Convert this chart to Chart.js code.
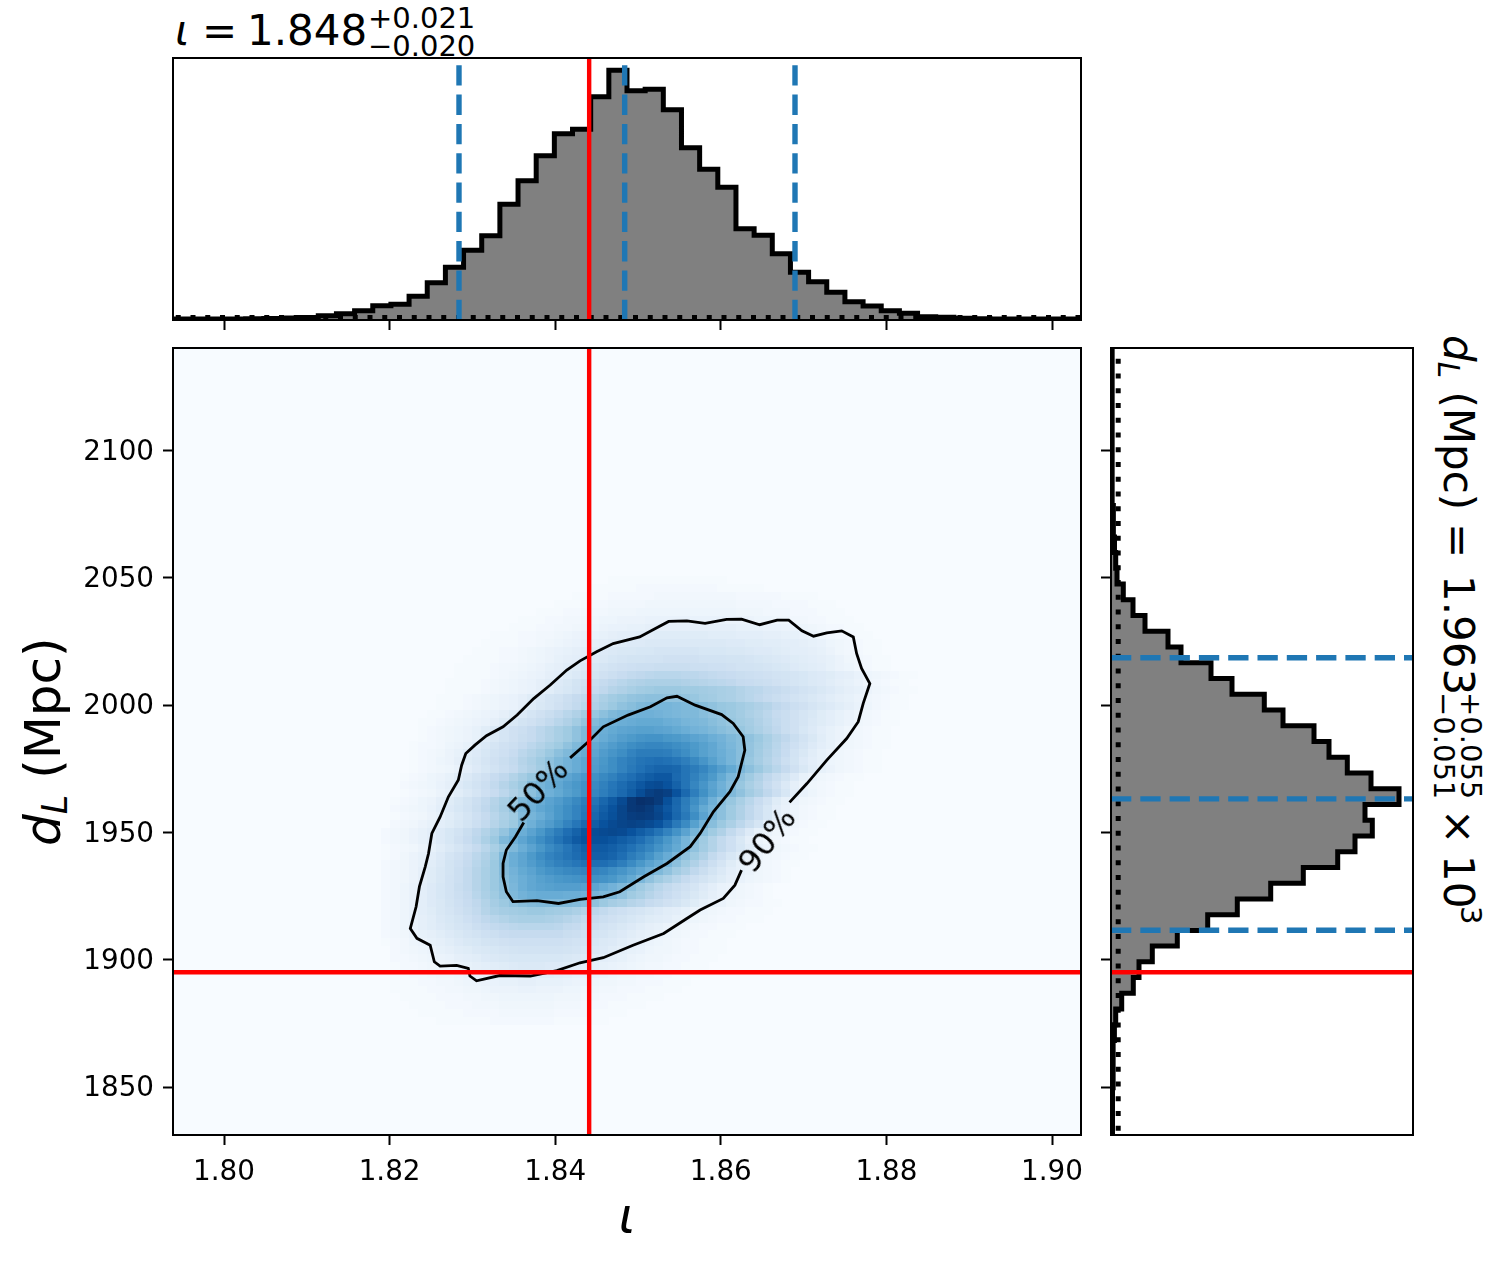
<!DOCTYPE html>
<html>
<head>
<meta charset="utf-8">
<script src="https://cdn.jsdelivr.net/npm/chart.js@4"></script>
<style>
  html, body { margin: 0; background: #fff; }
  #page { position: relative; width: 1502px; height: 1263px; overflow: hidden; font-family: "DejaVu Sans"; color: #000; }
  canvas { position: absolute; z-index: 1; }
  .txt { position: absolute; white-space: pre; line-height: 1; transform-origin: 0 0; z-index: 0; }
  .cl { position: absolute; font-size: 32.5px; line-height: 1; white-space: pre; z-index: 2; }
  .low { font-size: .7em; position: relative; top: .2em; }
</style>
</head>
<body>
<div id="page">
  <canvas id="top-canvas" style="left:0;top:48px"></canvas>
  <canvas id="main-canvas" style="left:0;top:338px"></canvas>
  <canvas id="side-canvas" style="left:1090px;top:338px"></canvas>
</div>
<script>
// axis limits and ticks
const iotaRange = [1.79384, 1.9035];
const distRange = [1831.15, 2140.3];
const iotaTicks = [1.80, 1.82, 1.84, 1.86, 1.88, 1.90];
const distTicks = [1850, 1900, 1950, 2000, 2050, 2100];

// true values and quantiles
const iotaTrue = 1.8441;
const distTrue = 1895.1;
const iotaQuantiles = [1.82838, 1.84839, 1.86896];
const distQuantiles = [1911.6, 1963.2, 2018.6];
const iotaPrior = 2.4;
const distPrior = 7.2;

// histogram heights, 50 bins each, low to high
const iotaHist = [1,1,1,1,1.3,1.5,2,2.5,4.3,6.3,9.3,14.3,15.7,23.7,37.3,52.7,69.7,84.3,115.7,139.3,164.3,186.3,190.7,223.3,249.7,229.3,230.7,210.3,172.3,150.7,132.7,91.3,84.7,66.3,47.7,38.3,27.7,18.3,14,9.3,6.7,3.3,2.7,1.7,1.3,1,1,1,1,1];
const distHist = [1.5,1.5,1.5,2,2,2.3,3.4,4.7,10.7,22.3,28,41.3,66.3,96.7,126.3,159.7,192.3,226.7,244,261.3,254,288,260,236.3,218,203,172,153.3,121,100,70,57,34,22,12.3,6,4.7,3.5,2.7,2.2,1.8,1.5,1.3,1.2,1,1,1,1,1,1];
const histMaxIota = 262;
const histMaxDist = 302;

// density in percent of the peak on a 100x100 grid, rows from heatFirstRow upward,
// each row begins at the column given in heatStartCols
const heatFirstRow = 14;
const heatStartCols = [29,27,26,25,24,24,24,24,24,24,23,23,23,23,23,23,23,23,23,23,23,23,23,23,23,24,24,24,24,25,25,25,26,26,26,26,27,27,27,28,29,29,30,30,31,31,32,33,34,35,37,38,40,42,44,46,48,50,54,58];
const heatRows = [
  [1,1,1,1,1,1,2,2,2,2,2,2,2,1,1,1,1,1,1],
  [1,1,1,1,1,2,2,2,2,3,3,3,3,3,3,2,2,2,2,1,1,1,1],
  [1,1,1,1,2,2,2,3,3,3,4,4,4,4,4,4,3,3,3,2,2,2,1,1,1,1],
  [1,1,1,1,2,2,2,3,3,4,4,5,5,5,5,5,5,4,4,4,3,3,2,2,2,1,1,1,1],
  [1,1,1,1,2,2,3,3,4,4,5,6,6,6,7,7,6,6,6,5,5,4,4,3,3,2,2,2,1,1,1,1],
  [1,1,1,2,2,3,3,4,5,5,6,7,8,8,9,9,8,8,8,7,6,6,5,4,4,3,3,2,2,2,1,1,1],
  [1,1,2,2,3,4,4,5,6,7,8,9,10,11,11,11,11,11,10,9,8,8,7,6,5,4,4,3,3,2,2,1,1,1],
  [1,2,2,3,4,5,6,7,8,9,10,11,12,13,14,14,14,13,13,12,11,10,9,8,7,6,5,4,3,3,2,2,1,1,1],
  [2,2,3,4,5,6,7,9,10,11,13,14,15,16,16,16,16,16,16,15,14,13,11,10,9,8,6,5,4,4,3,2,2,1,1,1],
  [2,3,4,5,6,8,9,11,12,14,15,16,17,18,19,19,19,19,19,18,17,16,14,13,11,9,8,7,5,4,4,3,2,2,1,1,1],
  [1,2,3,5,6,8,9,11,13,15,16,18,19,20,21,21,21,21,21,21,20,19,18,16,14,13,11,9,8,6,5,4,3,2,2,1,1,1],
  [2,3,4,6,8,9,11,13,15,17,19,21,22,24,25,25,25,25,25,25,23,22,20,18,17,15,13,11,9,8,6,5,4,3,2,2,1,1,1],
  [2,3,5,7,9,11,13,15,17,19,22,24,26,27,28,29,29,29,29,28,26,25,23,21,19,17,15,13,11,9,8,6,5,4,3,2,2,1,1,1],
  [2,3,5,7,9,11,14,16,18,21,24,27,29,31,33,34,34,34,33,32,30,28,26,24,22,20,18,16,14,12,11,10,8,7,5,4,3,2,2,1,1,1],
  [2,3,5,7,10,12,15,17,20,23,26,30,33,35,36,37,38,38,37,36,35,33,31,28,26,23,21,19,17,15,13,11,10,8,6,5,4,3,2,2,1,1,1],
  [2,3,5,7,10,13,15,18,21,24,27,31,35,38,41,43,44,45,45,45,45,44,43,41,38,35,33,30,28,25,23,20,18,15,12,9,7,6,4,3,2,2,1,1],
  [2,3,5,7,10,13,16,19,22,25,29,33,37,41,45,48,50,51,51,51,50,50,49,47,45,45,41,37,34,30,27,24,21,18,15,12,9,7,5,4,3,2,1],
  [2,3,5,7,10,13,16,19,23,26,30,34,38,42,46,50,53,55,56,57,57,57,56,54,51,48,45,41,37,33,29,26,23,20,17,13,10,7,6,4,3,2,1],
  [2,3,4,6,9,12,15,19,22,26,30,34,38,43,47,50,53,56,58,60,61,62,63,63,62,60,56,52,46,41,37,33,29,25,21,18,15,12,9,7,5,4,3,2,1],
  [2,3,4,6,9,12,15,18,22,26,30,34,38,44,48,52,55,59,62,64,66,67,68,68,67,64,61,57,53,49,45,41,36,32,27,23,18,14,10,8,6,4,3,2,1],
  [2,3,4,6,8,11,14,18,21,25,29,33,38,45,50,54,58,62,66,69,71,73,75,76,76,74,70,65,60,55,51,47,42,37,32,27,22,17,12,8,6,4,3,2,1,1],
  [1,2,4,6,8,10,13,17,20,24,28,32,37,45,50,54,59,64,68,71,74,77,80,82,82,80,76,71,67,62,56,51,46,41,37,32,26,21,16,12,8,6,4,3,2,1,1],
  [1,2,3,4,6,8,11,14,17,21,25,29,34,39,45,50,55,60,65,69,73,78,82,84,84,82,79,75,71,67,62,57,52,47,41,36,31,26,21,16,11,8,6,4,3,2,1,1],
  [2,3,4,6,8,10,13,16,20,24,28,33,38,45,49,54,59,64,69,74,79,84,87,88,88,86,83,80,76,71,66,60,54,47,42,37,31,26,21,15,9,6,4,3,2,1,1],
  [2,3,4,6,8,10,13,16,19,23,27,31,35,40,46,50,55,60,66,71,76,81,86,89,90,91,90,87,83,79,74,68,62,55,47,42,37,32,26,20,13,8,6,4,3,2,1,1],
  [2,3,4,6,8,10,12,15,18,22,26,30,34,38,45,49,54,58,63,68,73,78,83,87,90,92,93,92,90,87,80,72,65,56,48,43,38,33,28,23,17,10,7,5,3,2,1,1],
  [1,2,3,4,6,8,11,14,17,21,25,29,33,37,44,47,50,55,60,64,68,73,79,84,88,92,95,96,95,92,87,79,72,64,55,47,42,37,32,27,22,16,10,7,5,3,2,1,1],
  [2,3,4,5,7,10,13,16,19,23,27,31,35,41,46,49,53,56,60,64,68,72,77,82,87,92,97,98,96,91,85,78,70,61,52,47,42,37,32,27,22,16,10,7,5,3,2,1,1],
  [1,2,3,5,6,9,12,15,18,22,26,30,34,38,45,48,51,55,58,62,66,70,74,79,84,90,97,100,99,96,88,79,71,64,57,49,43,39,34,29,24,19,12,8,6,4,3,2,1,1],
  [1,2,3,4,6,8,11,14,17,21,24,28,32,36,42,46,49,52,56,59,63,67,70,74,78,83,89,94,96,94,87,78,70,63,56,50,45,41,36,32,27,22,16,10,7,5,3,2,1,1],
  [2,3,4,5,7,9,13,16,19,22,26,30,34,38,44,47,50,53,57,60,63,66,69,73,77,81,85,89,90,87,81,74,67,61,55,49,44,39,34,30,25,20,14,9,6,4,3,2,1,1],
  [1,2,3,5,6,8,11,14,17,20,24,27,31,35,39,45,48,51,54,57,60,63,66,69,73,76,80,83,85,85,78,74,69,64,59,52,46,41,37,32,27,23,18,13,8,6,4,3,2,1,1],
  [1,2,3,4,5,7,10,13,16,19,22,25,29,32,36,40,45,48,51,54,58,61,64,68,72,75,78,80,80,79,74,71,67,62,57,52,46,42,38,33,29,25,20,15,11,8,6,4,3,2,1,1],
  [1,2,3,5,6,9,12,14,17,20,23,26,30,33,37,41,45,48,51,54,57,60,64,68,71,74,75,76,75,73,70,66,61,56,51,47,43,39,35,31,27,22,18,13,10,8,5,4,3,2,1,1],
  [1,2,3,4,6,8,11,13,16,19,21,24,28,31,34,38,42,45,48,51,54,58,61,64,68,71,71,71,70,67,64,60,56,53,50,47,43,40,36,32,28,24,19,15,11,8,6,4,3,2,1,1],
  [1,2,2,3,5,6,8,11,14,17,20,22,25,28,31,34,37,41,45,48,52,55,58,61,64,66,67,67,66,64,62,59,56,53,49,46,43,40,37,33,29,25,21,17,13,10,8,5,4,3,2,1,1],
  [1,2,3,4,5,6,8,11,14,17,20,23,25,28,31,34,37,41,45,48,51,54,57,59,61,62,62,60,59,57,55,53,50,48,45,43,41,38,34,30,27,23,19,15,11,8,6,4,3,2,1,1],
  [1,2,3,4,5,6,8,11,14,17,20,22,25,28,31,34,37,41,45,48,50,52,54,55,56,56,55,54,52,50,48,47,45,43,41,39,36,33,30,27,23,20,16,13,10,8,6,4,3,2,1,1],
  [1,1,2,3,4,5,6,7,9,12,15,18,20,23,26,29,32,36,40,44,47,49,50,51,52,52,52,50,49,47,46,45,43,41,39,37,35,32,29,26,23,20,17,14,12,10,8,6,4,3,2,1,1],
  [1,1,2,3,4,5,6,7,9,12,14,17,20,23,26,29,32,36,39,42,45,47,48,49,49,48,47,46,45,45,43,41,40,38,36,33,31,28,25,23,20,17,15,12,10,8,6,4,3,2,1,1],
  [1,1,1,2,3,4,5,6,7,9,12,15,17,20,23,26,29,32,35,38,41,43,45,46,47,47,46,45,45,43,41,39,38,36,34,32,30,27,25,22,20,17,15,13,11,9,7,5,3,2,1,1],
  [1,1,1,2,3,4,5,6,7,9,12,14,17,19,22,25,27,30,33,36,38,40,41,42,42,41,41,40,39,37,36,34,33,31,29,27,25,23,21,19,17,15,13,11,9,8,6,4,3,2,1,1],
  [1,1,1,1,2,3,4,5,6,7,9,11,14,16,19,22,25,27,30,32,34,36,37,38,38,38,37,37,36,35,34,33,31,29,28,26,25,23,21,19,17,15,13,11,9,8,6,4,3,2,1,1],
  [1,1,1,1,2,3,4,5,6,7,9,11,13,15,18,20,23,25,27,29,31,32,33,33,33,33,32,31,30,29,28,27,25,24,23,22,20,19,17,16,14,13,11,9,8,6,4,3,2,1,1],
  [1,1,1,1,2,3,4,5,6,7,9,10,12,14,16,18,20,22,24,26,27,28,29,29,29,28,28,27,26,25,24,23,22,21,20,19,18,17,16,14,13,12,10,9,7,5,4,3,2,1,1],
  [1,1,1,1,2,3,3,4,5,6,8,9,11,12,14,16,17,19,20,21,22,22,23,23,23,23,22,22,21,21,20,19,19,18,17,16,15,13,12,11,10,8,6,5,3,2,1,1],
  [1,1,1,1,2,2,3,4,5,6,8,9,10,11,13,14,16,17,18,18,19,19,20,20,20,20,19,19,19,18,18,17,16,15,14,13,12,11,10,9,8,6,4,3,2,1,1],
  [1,1,1,2,2,3,4,5,6,7,8,9,10,11,13,14,15,15,16,16,17,17,17,17,17,16,16,16,15,15,14,13,13,12,11,10,10,9,8,6,4,3,2,1,1],
  [1,1,1,1,2,2,3,4,5,6,7,8,9,10,11,12,13,13,14,14,14,14,14,14,14,14,14,13,13,12,12,11,11,10,10,9,8,7,5,4,3,2,1,1],
  [1,1,1,2,2,3,3,4,5,6,7,7,8,9,10,10,11,11,12,12,12,12,12,12,11,11,11,10,10,10,9,9,8,8,7,6,4,3,2,2,1,1],
  [1,1,1,2,2,3,3,4,5,5,6,7,7,8,8,9,9,9,9,9,9,9,9,9,9,8,8,8,7,7,6,6,5,4,3,2,2,1,1],
  [1,1,1,2,2,3,3,4,4,5,5,6,6,6,7,7,7,7,7,7,7,7,7,6,6,6,5,5,4,4,3,3,2,2,1,1,1],
  [1,1,1,2,2,3,3,3,4,4,4,5,5,5,5,5,5,5,5,5,5,5,4,4,4,3,3,3,2,2,2,1,1,1],
  [1,1,1,2,2,2,3,3,3,3,4,4,4,4,4,4,4,4,4,4,3,3,3,3,2,2,2,2,1,1,1],
  [1,1,1,1,2,2,2,2,2,3,3,3,3,3,3,3,3,3,2,2,2,2,2,1,1,1,1],
  [1,1,1,1,1,2,2,2,2,2,2,2,2,2,1,1,1,1,1],
  [1,1,1,1,1,1,1,1,1,1,1,1,1]
];

// contours
const c90Iota = [1.8683,1.8704,1.8728,1.8752,1.8766,1.8772,1.8780,1.8770,1.8764,1.8760,1.8746,1.8728,1.8712,1.8698,1.8682,1.8668,1.8647,1.8625,1.8607,1.8581,1.8559,1.8537,1.8521,1.8502,1.8470,1.8450,1.8430,1.8414,1.8394,1.8374,1.8354,1.8337,1.8317,1.8303,1.8292,1.8287,1.8283,1.8271,1.8261,1.8251,1.8247,1.8243,1.8236,1.8232,1.8225,1.8233,1.8249,1.8254,1.8261,1.8281,1.8295,1.8297,1.8305,1.8333,1.8370,1.8402,1.8430,1.8458,1.8494,1.8531,1.8559,1.8575,1.8603,1.8617,1.8625];
const c90Dist = [1961.8,1969.2,1978.4,1986.9,1993.5,2000.7,2008.5,2014.4,2020.3,2026.8,2029.2,2028.4,2027.1,2029.2,2033.4,2033.4,2031.6,2033.8,2033.7,2032.1,2033.1,2032.9,2030.1,2026.8,2024.2,2021.0,2017.4,2013.8,2007.9,2002.6,1996.1,1991.5,1988.0,1984.3,1981.0,1976.4,1970.6,1964.0,1956.1,1949.6,1941.7,1936.5,1928.7,1920.8,1912.3,1908.4,1905.7,1899.2,1897.5,1897.8,1896.6,1893.6,1891.7,1893.8,1893.6,1895.7,1898.8,1900.8,1905.7,1910.3,1916.2,1919.5,1924.1,1929.3,1935.2];
const c50Iota = [1.8418,1.8440,1.8458,1.8488,1.8515,1.8535,1.8547,1.8569,1.8601,1.8615,1.8627,1.8629,1.8621,1.8611,1.8591,1.8575,1.8563,1.8535,1.8507,1.8478,1.8458,1.8430,1.8404,1.8378,1.8349,1.8341,1.8337,1.8337,1.8341,1.8352,1.8362];
const c50Dist = [1979.3,1985.6,1991.5,1996.1,1999.4,2002.9,2003.5,2000.0,1996.3,1992.8,1987.6,1982.3,1971.9,1966.0,1958.1,1949.6,1944.4,1937.8,1932.6,1926.7,1924.7,1923.7,1922.1,1923.2,1922.8,1926.7,1932.6,1937.8,1943.1,1948.3,1953.9];

// Blues colormap
const bluesStops = ['#f7fbff','#deebf7','#c6dbef','#9ecae1','#6baed6','#4292c6','#2171b5','#08519c','#08306b'];

const TICK = 10;
const BLUE = '#1f77b4';
const RED = '#ff0000';

Chart.defaults.font.family = 'DejaVu Sans';
Chart.defaults.font.size = 27.8;
Chart.defaults.color = '#000';

function hexToRgb(h) {
    return [1, 3, 5].map(i => parseInt(h.substr(i, 2), 16));
}

function blues(pct) {
    const t = Math.min(pct / 100, 1) * (bluesStops.length - 1);
    const i = Math.min(Math.floor(t), bluesStops.length - 2);
    const a = hexToRgb(bluesStops[i]), b = hexToRgb(bluesStops[i + 1]);
    const f = t - i;
    return 'rgb(' + a.map((v, k) => Math.round(v + (b[k] - v) * f)).join(',') + ')';
}

// one rectangular stamp per colour, used as the point style of the cells
const stamps = {};
function cellStamp(color, w, h) {
    const key = color + w + 'x' + h;
    if (!stamps[key]) {
        const c = document.createElement('canvas');
        c.width = w;
        c.height = h;
        const g = c.getContext('2d');
        g.fillStyle = color;
        g.fillRect(0, 0, w, h);
        stamps[key] = c;
    }
    return stamps[key];
}

const binEdge = (range, i, n) => range[0] + (range[1] - range[0]) * i / n;

const heatCells = [];
heatRows.forEach((row, r) => row.forEach((v, c) => {
    heatCells.push({
        x: binEdge(iotaRange, heatStartCols[r] + c + 0.5, 100),
        y: binEdge(distRange, heatFirstRow + r + 0.5, 100),
        v: v
    });
}));

const pairs = (xs, ys) => xs.map((x, i) => ({ x: x, y: ys[i] }));

function line(points, color, width, dash, offset) {
    return {
        data: points,
        showLine: true,
        borderColor: color,
        borderWidth: width,
        borderDash: dash || [],
        borderDashOffset: offset || 0,
        borderCapStyle: 'butt',
        pointRadius: 0,
        fill: false
    };
}

// white or tinted panel with a frame around it
const framePlugin = {
    id: 'frame',
    beforeDraw(chart, args, opts) {
        const a = chart.chartArea;
        chart.ctx.fillStyle = opts.fill;
        chart.ctx.fillRect(a.left, a.top, a.width, a.height);
    },
    afterDraw(chart) {
        const a = chart.chartArea;
        chart.ctx.strokeStyle = '#000';
        chart.ctx.lineWidth = 2;
        chart.ctx.strokeRect(a.left, a.top, a.width, a.height);
    }
};

function axis(range, ticks, size, opts) {
    const sizeKey = opts.horizontal ? 'height' : 'width';
    return Object.assign({
        type: 'linear',
        min: range[0],
        max: range[1],
        afterBuildTicks: s => { s.ticks = ticks.map(v => ({ value: v })); },
        afterFit: s => {
            s[sizeKey] = size;
            s.paddingLeft = s.paddingRight = s.paddingTop = s.paddingBottom = 0;
        },
        border: { display: false },
        grid: { drawOnChartArea: false, drawTicks: true, tickLength: TICK, tickWidth: 2, tickColor: '#000' },
        ticks: {
            autoSkip: false,
            minRotation: 0,
            maxRotation: 0,
            padding: opts.horizontal ? 11 : 9,
            labelOffset: opts.horizontal ? 0 : 2,
            color: '#000',
            callback: opts.format || (() => '')
        }
    }, opts.extra || {});
}

function baseOptions(padding, scales, fill) {
    return {
        responsive: false,
        animation: false,
        events: [],
        layout: { padding: padding },
        plugins: { legend: { display: false }, tooltip: { enabled: false }, frame: { fill: fill } },
        scales: scales
    };
}

// top histogram
const iotaSteps = iotaHist.flatMap((h, i) => [{ x: binEdge(iotaRange, i, 50), y: h }, { x: binEdge(iotaRange, i + 1, 50), y: h }]);
const topCanvas = document.getElementById('top-canvas');
topCanvas.width = 1100;
topCanvas.height = 285;
new Chart(topCanvas, {
    type: 'scatter',
    data: {
        datasets: [
            line([{ x: iotaTrue, y: 0 }, { x: iotaTrue, y: histMaxIota }], RED, 4.4),
            ...iotaQuantiles.map(q => line([{ x: q, y: 0 }, { x: q, y: histMaxIota }], BLUE, 5.4, [20.3, 9])),
            line([{ x: iotaRange[0], y: iotaPrior }, { x: iotaRange[1], y: iotaPrior }], '#000', 5, [5, 9.75], 12),
            Object.assign(line(iotaSteps, '#000', 5), { fill: 'origin', backgroundColor: '#808080', borderJoinStyle: 'miter' })
        ]
    },
    options: baseOptions({ left: 173, right: 19, top: 10, bottom: 0 }, {
        x: axis(iotaRange, iotaTicks, 13, { horizontal: true }),
        y: { type: 'linear', display: false, min: 0, max: histMaxIota }
    }, '#fff'),
    plugins: [framePlugin]
});

// main density panel
const mainCanvas = document.getElementById('main-canvas');
mainCanvas.width = 1100;
mainCanvas.height = 925;
new Chart(mainCanvas, {
    type: 'scatter',
    data: {
        datasets: [
            line([{ x: iotaTrue, y: distRange[0] }, { x: iotaTrue, y: distRange[1] }], RED, 4.4),
            line([{ x: iotaRange[0], y: distTrue }, { x: iotaRange[1], y: distTrue }], RED, 4.4),
            line(pairs(c50Iota, c50Dist), '#000', 2.8),
            line(pairs(c90Iota, c90Dist), '#000', 2.8),
            {
                data: heatCells,
                showLine: false,
                pointRadius: 6,
                pointBorderWidth: 0,
                pointStyle: ctx => {
                    const s = ctx.chart.scales;
                    const w = Math.ceil(Math.abs(s.x.getPixelForValue(binEdge(iotaRange, 1, 100)) - s.x.getPixelForValue(binEdge(iotaRange, 0, 100))));
                    const h = Math.ceil(Math.abs(s.y.getPixelForValue(binEdge(distRange, 1, 100)) - s.y.getPixelForValue(binEdge(distRange, 0, 100))));
                    return cellStamp(blues(ctx.raw.v), w || 1, h || 1);
                }
            }
        ]
    },
    options: baseOptions({ left: 0, right: 19, top: 10, bottom: 0 }, {
        x: axis(iotaRange, iotaTicks, 128, {
            horizontal: true,
            format: v => v.toFixed(2),
            extra: {
                title: {
                    display: true,
                    text: 'ι',
                    color: '#000',
                    font: { size: 50, style: 'italic', family: 'DejaVu Sans' },
                    padding: { top: 0, bottom: 13 }
                }
            }
        }),
        y: axis(distRange, distTicks, 173, { format: v => String(v) })
    }, blues(0)),
    plugins: [framePlugin]
});

// side histogram
const distSteps = distHist.flatMap((h, i) => [{ x: h, y: binEdge(distRange, i, 50) }, { x: h, y: binEdge(distRange, i + 1, 50) }]);
const sideCanvas = document.getElementById('side-canvas');
sideCanvas.width = 340;
sideCanvas.height = 810;
const sideOptions = baseOptions({ left: 0, right: 17, top: 10, bottom: 13 }, {
    x: { type: 'linear', display: false, min: 0, max: histMaxDist },
    y: axis(distRange, distTicks, 21, {})
}, '#fff');
sideOptions.indexAxis = 'y';
new Chart(sideCanvas, {
    type: 'scatter',
    data: {
        datasets: [
            line([{ x: 0, y: distTrue }, { x: histMaxDist, y: distTrue }], RED, 4.4),
            ...distQuantiles.map(q => line([{ x: 0, y: q }, { x: histMaxDist, y: q }], BLUE, 5.4, [20.3, 9])),
            line([{ x: distPrior, y: distRange[0] }, { x: distPrior, y: distRange[1] }], '#000', 5, [5, 9.75], 10.6),
            Object.assign(line(distSteps, '#000', 5), { fill: 'origin', backgroundColor: '#808080', borderJoinStyle: 'miter' })
        ]
    },
    options: sideOptions,
    plugins: [framePlugin]
});

// text pieces: baseline position on the page, rot 0, 90 or -90
const page = document.getElementById('page');
function text(html, size, xBase, yBase, rot) {
    const el = document.createElement('div');
    el.className = 'txt';
    el.innerHTML = html;
    el.style.fontSize = size + 'px';
    const up = 0.846 * size;
    if (rot === 90) {
        el.style.left = (xBase + up) + 'px';
        el.style.top = yBase + 'px';
        el.style.transform = 'rotate(90deg)';
    } else if (rot === -90) {
        el.style.left = (xBase - up) + 'px';
        el.style.top = yBase + 'px';
        el.style.transform = 'rotate(-90deg)';
    } else {
        el.style.left = xBase + 'px';
        el.style.top = (yBase - up) + 'px';
    }
    page.appendChild(el);
}

function contourLabel(str, x, y, angle) {
    const el = document.createElement('div');
    el.className = 'cl';
    el.textContent = str;
    el.style.left = x + 'px';
    el.style.top = y + 'px';
    el.style.transform = 'translate(-50%,-50%) rotate(' + angle + 'deg)';
    page.appendChild(el);
}

const dLabel = '<i>d</i><i class="low">L</i> (Mpc)';

// title above the top panel
text('<i>ι</i>', 42, 175, 46);
text('=', 42, 202, 46);
text('1.848', 42, 247, 46);
text('+0.021', 29, 368, 29);
text('−0.020', 29, 368, 57);

// y axis label
text(dLabel, 50, 60, 846, -90);

// title right of the side panel
text(dLabel, 42, 1443, 335, 90);
text('=', 42, 1443, 523, 90);
text('1.963', 42, 1443, 575, 90);
text('+0.055', 29, 1460, 692, 90);
text('−0.051', 29, 1433, 692, 90);
text('×', 42, 1443, 809, 90);
text('10', 42, 1443, 855, 90);
text('3', 29, 1460, 906, 90);

// inline contour labels
contourLabel('50%', 538, 790, -47);
contourLabel('90%', 767, 840, -52);
</script>
</body>
</html>
